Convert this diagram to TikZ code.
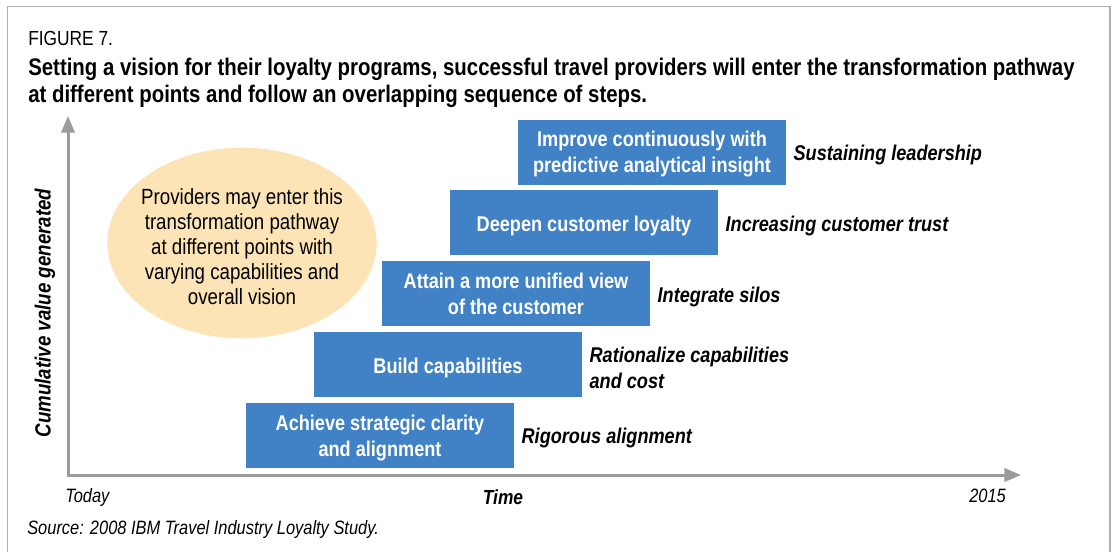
\documentclass[tikz,border=0pt]{standalone}
\usepackage{fontspec}
\setmainfont[FakeStretch=0.85]{Liberation Sans}
\usepackage{xcolor}
\usetikzlibrary{arrows.meta,positioning,shapes.geometric}
\definecolor{stageblue}{RGB}{65,129,197}
\definecolor{notepeach}{RGB}{252,228,183}
\definecolor{axisgray}{RGB}{155,155,158}
\definecolor{framegray}{RGB}{175,175,175}

\begin{document}
\begin{tikzpicture}[
  x=0.75pt, y=-0.75pt,
  stagebox/.style={rectangle, fill=stageblue, text=white, minimum width=201pt, minimum height=48.75pt, inner sep=0pt, font=\fontsize{16}{19.5}\selectfont\bfseries, align=center, text height=36pt, text depth=5.2pt},
  oneline/.style={text height=18.5pt, text depth=5pt},
  outcome/.style={right=2pt of #1, yshift=-2.2pt, font=\fontsize{16}{19.5}\selectfont\bfseries\itshape, align=left},
  vision/.style={ellipse, fill=notepeach, minimum width=202pt, minimum height=143pt, inner sep=0pt},
  notetext/.style={font=\fontsize{16.5}{18.75}\selectfont, align=center},
  axis/.style={draw=axisgray, line width=2.25pt, -{Triangle[length=12.5pt,width=10pt]}},
  plain/.style={font=\fontsize{14.5}{16}\selectfont\itshape, inner sep=0pt, anchor=base west}
]
\useasboundingbox (0,0) rectangle (1114,552);

% Frame
\draw[framegray, line width=1.1pt] (7.5,560) -- (7.5,6.5) -- (1110,6.5) -- (1110,560);

% Heading
\node[font=\fontsize{15.3}{18}\selectfont, inner sep=0pt, anchor=base west] (fig) at (28,46) {FIGURE 7.};
\node[font=\fontsize{18}{20.25}\selectfont\bfseries, inner sep=0pt, anchor=base west] (title) at (28,76)
  {Setting a vision for their loyalty programs, successful travel providers will enter the transformation pathway};
\node[font=\fontsize{18}{20.25}\selectfont\bfseries, inner sep=0pt, anchor=base west] (title2) at (28,103)
  {at different points and follow an overlapping sequence of steps.};

% Axes
\coordinate (origin) at (68,475);
\coordinate (ytip) at (68,116);
\coordinate (xtip) at (1021,475);
\draw[axis] (origin) -- (ytip);
\draw[axis] ([xshift=-1.1pt]origin) -- (xtip);

\node[font=\fontsize{16.5}{18}\selectfont\bfseries\itshape, rotate=90] (yname) at (45,313) {Cumulative value generated};
\node[plain] (today) at (65,502) {Today};
\node[font=\fontsize{15.3}{16}\selectfont\bfseries\itshape, inner sep=0pt, anchor=base] (time) at (503,504) {Time};
\node[plain] (year) at (969,502) {2015};
\node[plain] (source) at (27,534) {Source: 2008 IBM Travel Industry Loyalty Study.};

% Overlapping steps
\node[stagebox] (clarity) at (380,435.5) {Achieve strategic clarity\\and alignment};
\node[stagebox, oneline, above=4pt of clarity, xshift=51pt] (build) {Build capabilities};
\node[stagebox, above=4pt of build, xshift=51pt] (unify) {Attain a more unified view\\of the customer};
\node[stagebox, oneline, above=4pt of unify, xshift=51pt] (deepen) {Deepen customer loyalty};
\node[stagebox, above=4pt of deepen, xshift=51pt] (improve) {Improve continuously with\\predictive analytical insight};

% Outcomes
\node[outcome=clarity] (rigor) {Rigorous alignment};
\node[outcome=build] (ration) {Rationalize capabilities\\and cost};
\node[outcome=unify] (silos) {Integrate silos};
\node[outcome=deepen] (trust) {Increasing customer trust};
\node[outcome=improve] (lead) {Sustaining leadership};

% Entry note
\node[vision] (note) at (242,243) {};
\node[notetext, yshift=-3pt] (notelabel) at (note.center) {Providers may enter this\\transformation pathway\\at different points with\\varying capabilities and\\overall vision};

\end{tikzpicture}
\end{document}
